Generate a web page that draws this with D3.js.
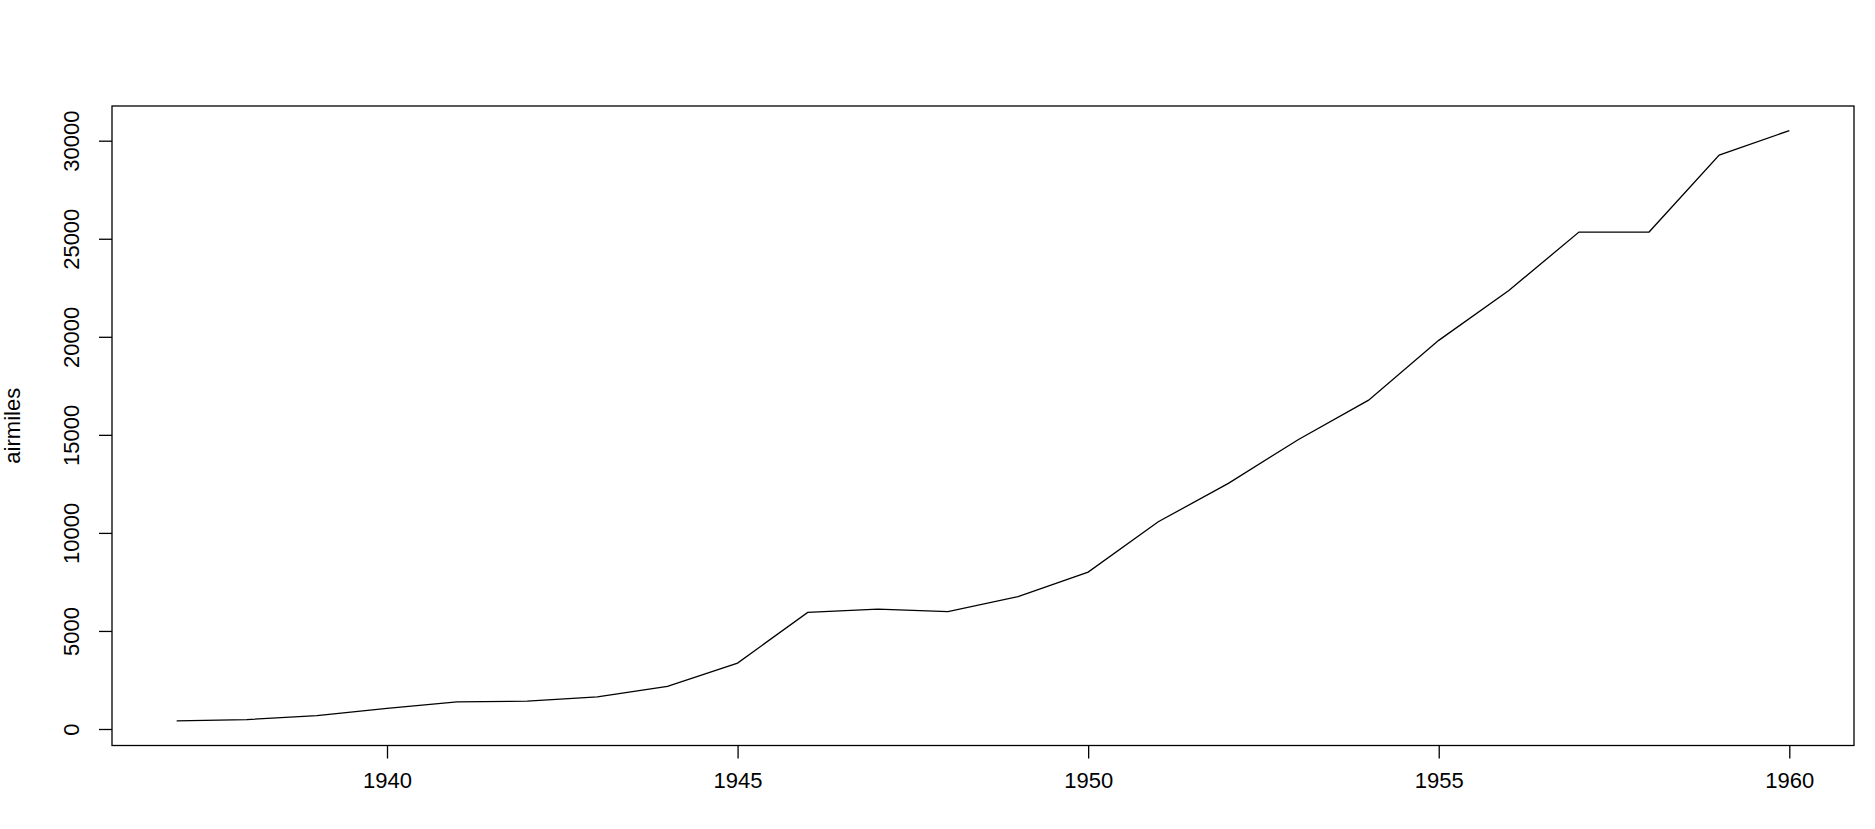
<!DOCTYPE html>
<html><head><meta charset="utf-8">
<script src="https://cdn.jsdelivr.net/npm/d3@7"></script>
<style>html,body{margin:0;padding:0;background:#fff;}</style>
</head><body>
<script>
const years = [1937,1938,1939,1940,1941,1942,1943,1944,1945,1946,1947,1948,1949,1950,1951,1952,1953,1954,1955,1956,1957,1958,1959,1960];
const airmiles = [412,480,683,1052,1385,1418,1634,2178,3362,5948,6109,5981,6753,8003,10566,12528,14760,16769,19819,22362,25340,25343,29269,30514];
const xTicks = [1940,1945,1950,1955,1960];
const yTicks = [0,5000,10000,15000,20000,25000,30000];
const yLabel = "airmiles";

const W = 1875, H = 829;
const box = {l:112, t:106, r:1854, b:745.5};
const svg = d3.select("body").append("svg").attr("width",W).attr("height",H);
const x = d3.scaleLinear().domain([1940,1960]).range([387,1789.3]);
const y = d3.scaleLinear().domain([0,30000]).range([729,140.7]);
const font = "'Liberation Sans', Arial, sans-serif";

svg.append("rect").attr("x",box.l).attr("y",box.t).attr("width",box.r-box.l).attr("height",box.b-box.t)
  .attr("fill","none").attr("stroke","#000").attr("stroke-width",1.3);

const xa = svg.append("g").attr("transform",`translate(0,${box.b})`)
  .call(d3.axisBottom(x).tickValues(xTicks).tickFormat(d3.format("d")).tickSize(13).tickPadding(14));
xa.select(".domain").remove();
xa.selectAll("line").attr("stroke","#000").attr("stroke-width",1.3);
xa.selectAll("text").attr("font-family",font).attr("font-size",22).attr("fill","#000");

const ya = svg.append("g").attr("transform",`translate(${box.l},0)`)
  .call(d3.axisLeft(y).tickValues(yTicks).tickFormat(d3.format("d")).tickSize(13).tickPadding(0));
ya.select(".domain").remove();
ya.selectAll("line").attr("stroke","#000").attr("stroke-width",1.3);
ya.selectAll("text").attr("x",null).attr("dy",null)
  .attr("transform","translate(-33,0) rotate(-90)")
  .attr("text-anchor","middle").attr("font-family",font).attr("font-size",22).attr("fill","#000");

svg.append("text").attr("transform",`translate(20,${(box.t+box.b)/2}) rotate(-90)`)
  .attr("text-anchor","middle").attr("font-family",font).attr("font-size",22).text(yLabel);

const line = d3.line().x((d,i)=>x(years[i])).y(d=>y(d));
svg.append("path").datum(airmiles).attr("d",line).attr("fill","none").attr("stroke","#000").attr("stroke-width",1.3);
</script>
</body></html>
